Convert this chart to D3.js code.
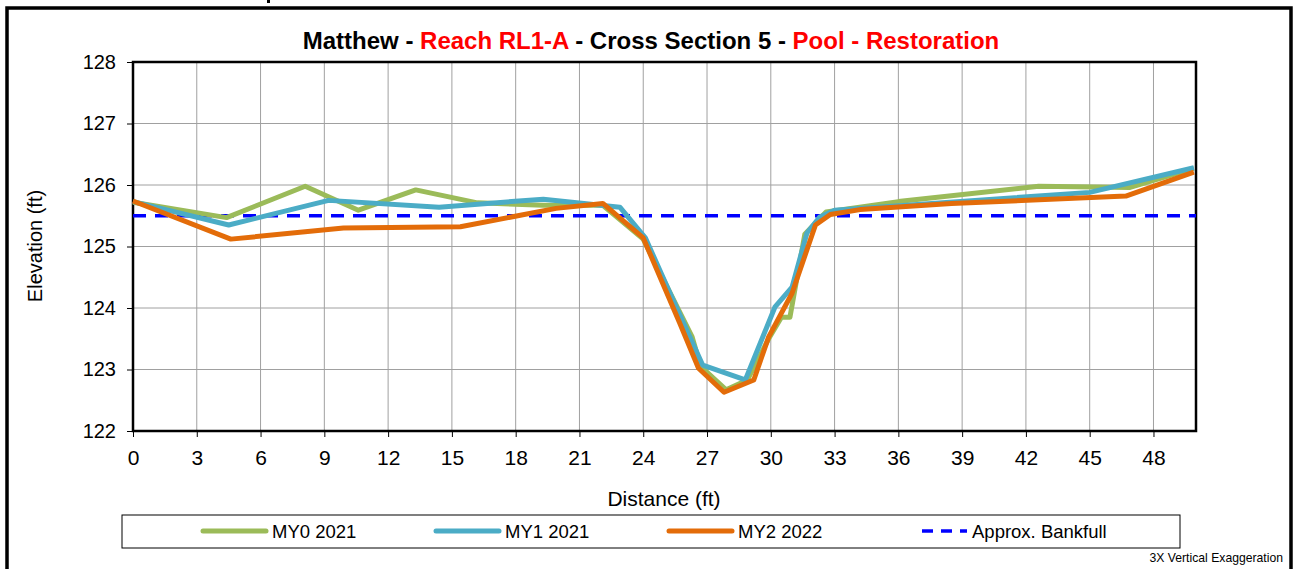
<!DOCTYPE html>
<html>
<head>
<meta charset="utf-8">
<title>Cross Section 5</title>
<script src="https://cdn.jsdelivr.net/npm/d3@7/dist/d3.min.js"></script>
<style>
    html, body {
        margin: 0;
        padding: 0;
        background: #fff;
    }
    svg {
        display: block;
        font-family: Arial, "Liberation Sans", sans-serif;
    }
</style>
</head>
<body>
<div id="chart"></div>
<script>
    // distance (ft) / elevation (ft)
    const my0Dist = [0, 4.4, 8.1, 10.6, 13.3, 16.2, 19.3, 22.1, 24.0, 26.3, 26.7, 27.9, 28.9, 29.9, 30.5, 30.9, 31.6, 32.6, 36.0, 42.6, 46.9, 49.9];
    const my0Elev = [125.72, 125.47, 125.98, 125.59, 125.92, 125.71, 125.67, 125.67, 125.12, 123.53, 123.05, 122.67, 122.83, 123.5, 123.85, 123.85, 125.2, 125.56, 125.73, 125.98, 125.96, 126.27];

    const my1Dist = [0, 4.5, 9.2, 14.4, 19.3, 22.9, 24.1, 25.2, 26.8, 28.8, 30.2, 31.0, 31.7, 32.3, 33.0, 45.0, 49.9];
    const my1Elev = [125.73, 125.35, 125.75, 125.64, 125.77, 125.64, 125.14, 124.29, 123.07, 122.83, 124.02, 124.34, 125.22, 125.48, 125.59, 125.88, 126.28];

    const my2Dist = [0, 4.6, 9.9, 15.4, 19.9, 22.1, 24.0, 25.7, 26.6, 27.8, 29.2, 29.9, 31.0, 32.1, 32.8, 34.2, 38.5, 46.7, 49.9];
    const my2Elev = [125.74, 125.12, 125.3, 125.32, 125.62, 125.7, 125.14, 123.77, 123.02, 122.63, 122.83, 123.53, 124.24, 125.35, 125.52, 125.6, 125.7, 125.82, 126.21];

    const bankfullElev = 125.5;
    const bankfullDist = [0, 50];

    const xTicks = d3.range(0, 49, 3);
    const yTicks = [122, 123, 124, 125, 126, 127, 128];

    const seriesNames = ["MY0 2021", "MY1 2021", "MY2 2022"];
    const seriesColors = ["#9bbb59", "#4bacc6", "#e36c09"];
    const seriesData = [
        d3.zip(my0Dist, my0Elev),
        d3.zip(my1Dist, my1Elev),
        d3.zip(my2Dist, my2Elev)
    ];

    const width = 1297;
    const height = 569;
    const plotLeft = 133, plotRight = 1196, plotTop = 62, plotBottom = 431;
    const font = "Arial, 'Liberation Sans', sans-serif";

    const x = d3.scaleLinear([0, 50], [plotLeft, plotRight]);
    const y = d3.scaleLinear([122, 128], [plotBottom, plotTop]);

    const svg = d3.select("#chart").append("svg")
        .attr("width", width)
        .attr("height", height)
        .attr("viewBox", [0, 0, width, height]);

    // outer chart frame (bottom runs off the page)
    svg.append("rect")
        .attr("x", 7).attr("y", 8)
        .attr("width", 1284).attr("height", 600)
        .attr("fill", "none")
        .attr("stroke", "#000")
        .attr("stroke-width", 3.5);

    // tail of a glyph cut off above the frame
    svg.append("rect")
        .attr("x", 267).attr("y", 0)
        .attr("width", 3).attr("height", 3)
        .attr("fill", "#000");

    // title
    const title = svg.append("text")
        .attr("x", 651).attr("y", 49)
        .attr("text-anchor", "middle")
        .attr("font-size", 24)
        .attr("font-weight", "bold");
    [["Matthew - ", "#000"], ["Reach RL1-A", "#ff0000"], [" - Cross Section 5 - ", "#000"], ["Pool - Restoration", "#ff0000"]]
        .forEach(([t, c]) => title.append("tspan").attr("fill", c).text(t));

    // gridlines
    svg.append("g")
        .attr("stroke", "#a0a0a0")
        .attr("stroke-width", 1)
        .call(g => g.selectAll("line.v").data(xTicks.slice(1)).join("line")
            .attr("x1", d => x(d)).attr("x2", d => x(d))
            .attr("y1", plotTop).attr("y2", plotBottom))
        .call(g => g.selectAll("line.h").data(yTicks.slice(1, -1)).join("line")
            .attr("x1", plotLeft).attr("x2", plotRight)
            .attr("y1", d => y(d)).attr("y2", d => y(d)));

    // axes
    svg.append("g")
        .attr("transform", `translate(0,${plotBottom})`)
        .call(d3.axisBottom(x).tickValues(xTicks).tickFormat(d3.format("d")).tickSize(6).tickSizeOuter(0).tickPadding(13))
        .call(g => g.select(".domain").remove())
        .call(g => g.selectAll("line").attr("stroke", "#000"))
        .call(g => g.selectAll("text").attr("font-size", 21).attr("font-family", font).attr("fill", "#000"));

    svg.append("g")
        .attr("transform", `translate(${plotLeft},0)`)
        .call(d3.axisLeft(y).tickValues(yTicks).tickFormat(d3.format("d")).tickSize(6).tickSizeOuter(0).tickPadding(11))
        .call(g => g.select(".domain").remove())
        .call(g => g.selectAll("line").attr("stroke", "#000"))
        .call(g => g.selectAll("text").attr("font-size", 20).attr("font-family", font).attr("fill", "#000"));

    // plot border
    svg.append("rect")
        .attr("x", plotLeft).attr("y", plotTop)
        .attr("width", plotRight - plotLeft).attr("height", plotBottom - plotTop)
        .attr("fill", "none").attr("stroke", "#000").attr("stroke-width", 2.5);

    // axis titles
    svg.append("text")
        .attr("transform", `translate(42,246) rotate(-90)`)
        .attr("text-anchor", "middle")
        .attr("font-size", 20)
        .text("Elevation (ft)");

    svg.append("text")
        .attr("x", 664).attr("y", 506)
        .attr("text-anchor", "middle")
        .attr("font-size", 21)
        .text("Distance (ft)");

    const line = d3.line().x(d => x(d[0])).y(d => y(d[1]));

    const plot = svg.append("g");

    // bankfull
    plot.append("path")
        .datum(bankfullDist.map(d => [d, bankfullElev]))
        .attr("d", line)
        .attr("fill", "none")
        .attr("stroke", "#0000ff")
        .attr("stroke-width", 3.5)
        .attr("stroke-dasharray", "13,9");

    seriesData.forEach((data, i) => {
        plot.append("path")
            .datum(data)
            .attr("d", line)
            .attr("fill", "none")
            .attr("stroke", seriesColors[i])
            .attr("stroke-width", 5)
            .attr("stroke-linejoin", "round");
    });

    // legend
    const legend = svg.append("g");
    legend.append("rect")
        .attr("x", 122).attr("y", 515)
        .attr("width", 1058).attr("height", 33)
        .attr("fill", "#fff").attr("stroke", "#000").attr("stroke-width", 1);

    const legendX = [203, 436, 669];
    seriesNames.forEach((name, i) => {
        legend.append("line")
            .attr("x1", legendX[i]).attr("x2", legendX[i] + 63)
            .attr("y1", 531).attr("y2", 531)
            .attr("stroke", seriesColors[i]).attr("stroke-width", 5)
            .attr("stroke-linecap", "round");
        legend.append("text")
            .attr("x", legendX[i] + 69).attr("y", 538)
            .attr("font-size", 18.5)
            .text(name);
    });
    legend.append("line")
        .attr("x1", 922).attr("x2", 967)
        .attr("y1", 531).attr("y2", 531)
        .attr("stroke", "#0000ff").attr("stroke-width", 3.5)
        .attr("stroke-dasharray", "11,8");
    legend.append("text")
        .attr("x", 972).attr("y", 538)
        .attr("font-size", 18.5)
        .text("Approx. Bankfull");

    svg.append("text")
        .attr("x", 1283).attr("y", 562)
        .attr("text-anchor", "end")
        .attr("font-size", 12.2)
        .text("3X Vertical Exaggeration");
</script>
</body>
</html>
